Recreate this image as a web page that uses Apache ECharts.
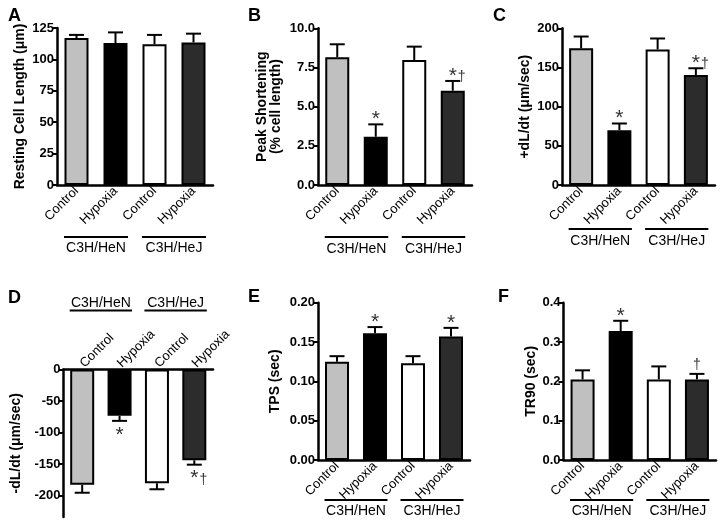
<!DOCTYPE html>
<html>
<head>
<meta charset="utf-8">
<script src="https://cdn.jsdelivr.net/npm/echarts@6/dist/echarts.min.js"></script>
<style>
html,body{margin:0;padding:0;background:#fff;}
#chart{width:720px;height:528px;}
</style>
</head>
<body>
<div id="chart"></div>
<script>
// ---------- data ----------
const categories = ['Control', 'Hypoxia', 'Control', 'Hypoxia'];
const groups = ['C3H/HeN', 'C3H/HeJ'];

const restingMean = [117, 113, 112, 113.5];
const restingSem  = [2.5, 8.5, 7.5, 7];
const restingAnn  = ['', '', '', ''];

const peakMean = [8.15, 3.08, 7.98, 6.02];
const peakSem  = [0.83, 0.79, 0.85, 0.62];
const peakAnn  = ['', '*', '', '*†'];

const plusMean = [174.5, 70, 173, 140.5];
const plusSem  = [15, 8.5, 14, 8.5];
const plusAnn  = ['', '*', '', '*†'];

const minusMean = [-183, -73.5, -180.5, -144];
const minusSem  = [12.5, 8, 9.5, 7];
const minusAnn  = ['', '*', '', '*†'];

const tpsMean = [0.125, 0.161, 0.123, 0.157];
const tpsSem  = [0.007, 0.008, 0.009, 0.011];
const tpsAnn  = ['', '*', '', '*'];

const tr90Mean = [0.205, 0.328, 0.205, 0.205];
const tr90Sem  = [0.023, 0.026, 0.033, 0.014];
const tr90Ann  = ['', '*', '', '†'];

const ticksA = [0, 25, 50, 75, 100, 125];
const ticksB = [0, 2.5, 5, 7.5, 10];
const ticksC = [0, 50, 100, 150, 200];
const ticksD = [0, -50, -100, -150, -200];
const ticksE = [0, 0.05, 0.10, 0.15, 0.20];
const ticksF = [0, 0.1, 0.2, 0.3, 0.4];

const barColors = ['#c0c0c0', '#000000', '#ffffff', '#2c2c2c'];
// ---------- layout ----------
const FONT = "'Liberation Sans', Arial, Helvetica, sans-serif";
const panels = [
  {letter:'A', lx:3, ly:2, grid:{left:57, top:28, width:156, height:157}, min:0, max:125, ticks:ticksA, dec:0,
   name:'Resting Cell Length (μm)', gap:30, mean:restingMean, sem:restingSem, ann:restingAnn, dir:1, top:false, lineOff:52, textOff:63.5},
  {letter:'B', lx:243, ly:2, grid:{left:318, top:28.3, width:154, height:156.7}, min:0, max:10, ticks:ticksB, dec:1,
   name:'Peak Shortening\n(% cell length)', gap:35, mean:peakMean, sem:peakSem, ann:peakAnn, dir:1, top:false, lineOff:52, textOff:64},
  {letter:'C', lx:488, ly:2, grid:{left:562, top:28.3, width:153, height:156.7}, min:0, max:200, ticks:ticksC, dec:0,
   name:'+dL/dt (μm/sec)', gap:30, mean:plusMean, sem:plusSem, ann:plusAnn, dir:1, top:false, lineOff:44, textOff:56},
  {letter:'D', lx:3, ly:284, grid:{left:63.5, top:369.5, width:149.5, height:147.5}, min:-234, max:0, ticks:ticksD, dec:0,
   name:'-dL/dt (μm/sec)', gap:40, mean:minusMean, sem:minusSem, ann:minusAnn, dir:-1, top:true, lineOff:-59, textOff:-66},
  {letter:'E', lx:243, ly:283, grid:{left:318, top:302.7, width:152, height:157.3}, min:0, max:0.2, ticks:ticksE, dec:2,
   name:'TPS (sec)', gap:36, mean:tpsMean, sem:tpsSem, ann:tpsAnn, dir:1, top:false, lineOff:40, textOff:51.5},
  {letter:'F', lx:493, ly:283, grid:{left:563.5, top:302.7, width:152.5, height:157.3}, min:0, max:0.4, ticks:ticksF, dec:1,
   name:'TR90 (sec)', gap:22, mean:tr90Mean, sem:tr90Sem, ann:tr90Ann, dir:1, top:false, lineOff:40, textOff:51.5}
];

const option = {
  backgroundColor: '#fff',
  animation: false,
  textStyle: {fontFamily: FONT},
  title: [], grid: [], xAxis: [], yAxis: [], series: []
};

panels.forEach((p, k) => {
  option.title.push({text: p.letter, left: p.lx, top: p.ly,
    textStyle: {fontFamily: FONT, fontSize: 18, fontWeight: 'bold', color: '#000'}});
  option.grid.push(Object.assign({containLabel: false}, p.grid));
  option.xAxis.push({
    type: 'category', gridIndex: k, data: categories, position: p.top ? 'top' : 'bottom',
    axisLine: {onZero: false, lineStyle: {color: '#000', width: 2.5}},
    axisTick: {show: false},
    axisLabel: {interval: 0, rotate: p.top ? -45 : 45, margin: 4, fontSize: 13, color: '#000', fontFamily: FONT},
    splitLine: {show: false}
  });
  const dec = p.dec;
  option.yAxis.push({
    type: 'value', gridIndex: k, min: p.min, max: p.max,
    name: p.name, nameLocation: 'middle', nameGap: p.gap,
    nameTextStyle: {fontSize: 14, fontWeight: 'bold', color: '#000', fontFamily: FONT, lineHeight: 14},
    axisLine: {show: true, lineStyle: {color: '#000', width: 2.5}},
    axisTick: {show: true, inside: false, length: 5, lineStyle: {color: '#000', width: 2}, customValues: p.ticks},
    axisLabel: {customValues: p.ticks, fontSize: 13, fontWeight: 'bold', color: '#000', margin: 3, fontFamily: FONT,
      formatter: v => Number(v).toFixed(dec)},
    splitLine: {show: false}
  });
  option.series.push({
    type: 'bar', xAxisIndex: k, yAxisIndex: k, barWidth: 24, z: 2,
    data: p.mean.map((m, i) => ({value: m, itemStyle: {color: barColors[i], borderColor: '#000', borderWidth: 2}}))
  });
  const ann = p.ann, dir = p.dir;
  option.series.push({
    type: 'custom', xAxisIndex: k, yAxisIndex: k, z: 3, clip: false,
    data: p.mean.map((m, i) => [i, m, m + dir * p.sem[i]]),
    renderItem: function (params, api) {
      const i = api.value(0);
      const p0 = api.coord([i, api.value(1)]);
      const p1 = api.coord([i, api.value(2)]);
      const hw = 7.5;
      const st = {stroke: '#000', lineWidth: 2};
      const children = [
        {type: 'line', shape: {x1: p0[0], y1: p0[1], x2: p1[0], y2: p1[1]}, style: st},
        {type: 'line', shape: {x1: p1[0] - hw, y1: p1[1], x2: p1[0] + hw, y2: p1[1]}, style: st}
      ];
      const a = ann[params.dataIndex];
      if (a) {
        const baseY = dir > 0 ? p1[1] - 5 : p1[1] + 14;
        if (a.indexOf('*') >= 0) {
          children.push({type: 'text', x: p1[0], y: baseY,
            style: {text: '*', fontSize: 21, fontFamily: FONT, fill: '#333', align: 'center', verticalAlign: 'middle'}});
          if (a.indexOf('†') >= 0) {
            children.push({type: 'text', x: p1[0] + 9, y: baseY + 1,
              style: {text: '†', fontSize: 14, fontFamily: FONT, fill: '#333', align: 'center', verticalAlign: 'middle'}});
          }
        } else {
          children.push({type: 'text', x: p1[0], y: p1[1] - 9,
            style: {text: a, fontSize: 14, fontFamily: FONT, fill: '#333', align: 'center', verticalAlign: 'middle'}});
        }
      }
      return {type: 'group', children: children};
    }
  });
  const lineOff = p.lineOff, textOff = p.textOff;
  option.series.push({
    type: 'custom', xAxisIndex: k, yAxisIndex: k, z: 3, clip: false, silent: true,
    data: [[0, 1], [2, 3]],
    renderItem: function (params, api) {
      const a = api.coord([api.value(0), 0]);
      const b = api.coord([api.value(1), 0]);
      const y0 = p.top ? p.grid.top : p.grid.top + p.grid.height;
      const x1 = a[0] - 12.5, x2 = b[0] + 12.5;
      return {type: 'group', children: [
        {type: 'line', shape: {x1: x1, y1: y0 + lineOff, x2: x2, y2: y0 + lineOff}, style: {stroke: '#000', lineWidth: 2}},
        {type: 'text', x: (x1 + x2) / 2, y: y0 + textOff,
          style: {text: groups[params.dataIndex], fontSize: 14, fontFamily: FONT, fill: '#000', align: 'center', verticalAlign: 'middle'}}
      ]};
    }
  });
});

const chart = echarts.init(document.getElementById('chart'), null, {renderer: 'canvas', width: 720, height: 528});
chart.setOption(option);
</script>
</body>
</html>
